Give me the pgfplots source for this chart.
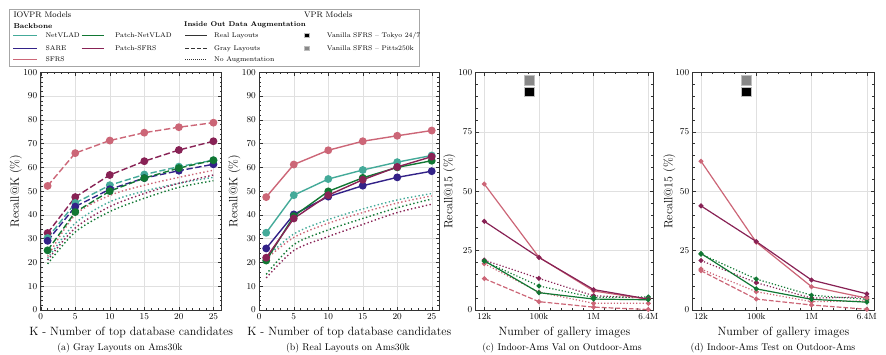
\documentclass[border=0pt]{standalone}
\usepackage{pgfplots}
\pgfplotsset{compat=1.18}
\definecolor{cNet}{HTML}{44AA99}
\definecolor{cSare}{HTML}{332288}
\definecolor{cSfrs}{HTML}{CC6677}
\definecolor{cPNet}{HTML}{117733}
\definecolor{cPSfrs}{HTML}{882255}
\definecolor{cGray}{HTML}{888888}
\pgfplotsset{
  base/.style={scale only axis, height=237.7pt, ymin=0, ymax=100,
    grid=major, major grid style={draw=black!12, line width=0.4pt},
    tick align=inside, major tick length=3.5pt, minor tick length=2pt,
    axis line style={line width=0.5pt, black!80},
    every tick/.style={black!80, line width=0.4pt},
    tick label style={font=\fontsize{8.9}{10}\selectfont},
    label style={font=\fontsize{12}{14}\selectfont},
    minor x tick num=4, minor y tick num=4},
  recall/.style={base, width=181pt, xmin=0, xmax=26.2,
    xtick={0,5,...,25}, ytick={0,10,...,100},
    xlabel={K - Number of top database candidates}, ylabel={Recall@K (\%)},
    xlabel style={at={(axis description cs:0.5,-0.0926)}, anchor=center}},
  gallery/.style={base, xtick={0,1,2,3},
    xticklabels={\mbox{12k},\mbox{100k},\mbox{1M},\mbox{6.4M}},
    ytick={0,25,50,75,100},
    xlabel={Number of gallery images}, ylabel={Recall@15 (\%)},
    xlabel style={at={(axis description cs:0.5,-0.0926)}, anchor=center}},
  big/.style={line width=1.4pt, mark=*, mark size=3.2pt, mark options={solid}},
  bigdash/.style={big, dash pattern=on 6.3pt off 2.7pt},
  bigdot/.style={line width=1.4pt, dash pattern=on 1.4pt off 2.4pt, smooth},
  sm/.style={line width=1.2pt, mark=*, mark size=1.8pt, mark options={solid}},
  smdash/.style={sm, dash pattern=on 4.8pt off 2pt},
  smdot/.style={sm, dash pattern=on 1.2pt off 2pt},
  vpr/.style={only marks, mark=square*, mark size=4.7pt, mark options={draw=white!75!black, line width=0.4pt}},
  lg/.style={line width=1.7pt},
}
\tikzset{lt/.style={anchor=west, inner sep=0pt, text height=4.9pt, text depth=0pt, font=\fontsize{6.8}{8}\selectfont}}
\begin{document}
\begin{tikzpicture}
\useasboundingbox (0pt,0pt) rectangle (886pt,-355pt);

% ---------- legend (canvas axis in pixel units) ----------
\begin{axis}[hide axis, scale only axis, width=886pt, height=355pt,
  xmin=0, xmax=886, ymin=-355, ymax=0, at={(0pt,-355pt)}, anchor=south west, clip=false]
\draw[black!35, line width=0.5pt] (axis cs:9,-9) rectangle (axis cs:419.3,-66.5);
\node[anchor=west, inner sep=0pt, font=\fontsize{8.1}{9}\selectfont] at (axis cs:13.3,-14.7) {IOVPR Models};
\node[anchor=west, inner sep=0pt, font=\fontsize{8.1}{9}\selectfont] at (axis cs:304,-15) {VPR Models};
\node[anchor=west, inner sep=0pt, font=\bfseries\fontsize{7.1}{8}\selectfont] at (axis cs:13.3,-25.7) {Backbone};
\node[anchor=west, inner sep=0pt, font=\bfseries\fontsize{6.9}{8}\selectfont] at (axis cs:184,-25.2) {Inside Out Data Augmentation};
% backbone samples
\addplot[cNet, lg] coordinates {(13.3,-35.5)(36.7,-35.5)};
\addplot[cPNet, lg] coordinates {(81.7,-35.5)(104,-35.5)};
\addplot[cSare, lg] coordinates {(13.3,-48.5)(36.7,-48.5)};
\addplot[cPSfrs, lg] coordinates {(81.7,-48.5)(104,-48.5)};
\addplot[cSfrs, lg] coordinates {(13.3,-59.5)(36.7,-59.5)};
\node[lt] at (axis cs:45.3,-35.5) {NetVLAD};
\node[lt] at (axis cs:115,-35.5) {Patch-NetVLAD};
\node[lt] at (axis cs:45.3,-48.5) {SARE};
\node[lt] at (axis cs:115,-48.5) {Patch-SFRS};
\node[lt] at (axis cs:45.3,-59.5) {SFRS};
% augmentation samples
\addplot[black!80, line width=1.2pt] coordinates {(185,-35.5)(206.7,-35.5)};
\addplot[black!80, line width=1.2pt, dash pattern=on 3.6pt off 2.4pt] coordinates {(185,-48.5)(206.7,-48.5)};
\addplot[black!80, line width=0.8pt, dash pattern=on 0.8pt off 1.2pt] coordinates {(185,-59.5)(206.7,-59.5)};
\node[lt] at (axis cs:214,-35.5) {Real Layouts};
\node[lt] at (axis cs:214,-48.5) {Gray Layouts};
\node[lt] at (axis cs:214,-59.5) {No Augmentation};
% VPR samples
\addplot[black, only marks, mark=square*, mark size=2.1pt, mark options={draw=white!75!black, line width=0.3pt}] coordinates {(306.7,-35.5)};
\addplot[cGray, only marks, mark=square*, mark size=2.1pt, mark options={draw=white!75!black, line width=0.3pt}] coordinates {(306.7,-48.5)};
\node[lt] at (axis cs:326.7,-35.5) {Vanilla SFRS -- Tokyo 24/7};
\node[lt] at (axis cs:326.7,-48.5) {Vanilla SFRS -- Pitts250k};
\end{axis}

% ---------- (a) Gray layouts ----------
\begin{axis}[recall, at={(40.7pt,-310pt)}, anchor=south west,
  ylabel style={at={(axis description cs:-0.1365,0.5)}, anchor=center}]
\addplot[cSfrs, bigdot] coordinates {(1,22.5)(5,40)(10,48.2)(15,52.5)(20,55.8)(25,58.8)};
\addplot[cNet, bigdot] coordinates {(1,21.7)(5,36.5)(10,45.5)(15,50)(20,53.3)(25,55.8)};
\addplot[cPSfrs, bigdot] coordinates {(1,21)(5,34.5)(10,43.5)(15,49)(20,53.3)(25,56.8)};
\addplot[cPNet, bigdot] coordinates {(1,19.4)(5,32.8)(10,41.4)(15,47)(20,51.6)(25,54.4)};
\addplot[cSfrs, bigdash] coordinates {(1,52.2)(5,66)(10,71.3)(15,74.6)(20,76.9)(25,78.8)};
\addplot[cPSfrs, bigdash] coordinates {(1,32.4)(5,47.5)(10,56.8)(15,62.6)(20,67.3)(25,71)};
\addplot[cNet, bigdash] coordinates {(1,30.3)(5,45)(10,52.5)(15,57)(20,60.3)(25,63)};
\addplot[cSare, bigdash] coordinates {(1,29.1)(5,43.5)(10,50.8)(15,55.5)(20,58.6)(25,61.3)};
\addplot[cPNet, bigdash] coordinates {(1,25.1)(5,41.2)(10,50)(15,55.5)(20,59.7)(25,63)};
\end{axis}
\node[font=\fontsize{9.8}{11}\selectfont] at (120pt,-348pt) {(a) Gray Layouts on Ams30k};

% ---------- (b) Real layouts ----------
\begin{axis}[recall, at={(259.3pt,-310pt)}, anchor=south west, width=180pt, xmax=26.1,
  ylabel style={at={(axis description cs:-0.139,0.5)}, anchor=center}]
\addplot[cNet, bigdot] coordinates {(1,22)(5,32)(10,38)(15,42.5)(20,46.3)(25,49)};
\addplot[cSfrs, bigdot] coordinates {(1,21.5)(5,30.5)(10,36.5)(15,41)(20,45)(25,48)};
\addplot[cPNet, bigdot] coordinates {(1,15)(5,27.5)(10,33.7)(15,38.5)(20,43)(25,46.7)};
\addplot[cPSfrs, bigdot] coordinates {(1,13.5)(5,25)(10,30.9)(15,36)(20,41)(25,44.5)};
\addplot[cSfrs, big] coordinates {(1,47.5)(5,61.2)(10,67.2)(15,71)(20,73.3)(25,75.5)};
\addplot[cNet, big] coordinates {(1,32.5)(5,48.3)(10,55.1)(15,58.9)(20,62.2)(25,65)};
\addplot[cSare, big] coordinates {(1,25.9)(5,40.2)(10,47.7)(15,52.3)(20,55.8)(25,58.4)};
\addplot[cPNet, big] coordinates {(1,20.8)(5,39.5)(10,49.9)(15,55.6)(20,60)(25,62.8)};
\addplot[cPSfrs, big] coordinates {(1,22)(5,38.5)(10,48.3)(15,54.8)(20,60.2)(25,64.5)};
\end{axis}
\node[font=\fontsize{9.8}{11}\selectfont] at (348pt,-348pt) {(b) Real Layouts on Ams30k};

% ---------- (c) Indoor-Ams Val ----------
\begin{axis}[gallery, at={(475.7pt,-310pt)}, anchor=south west, width=177.3pt, xmin=-0.157, xmax=3.086,
  ylabel style={at={(axis description cs:-0.149,0.5)}, anchor=center}]
\addplot[cSfrs, smdash] coordinates {(0,13.2)(1,3.5)(2,1.2)(3,0.2)};
\addplot[cSfrs, smdot] coordinates {(0,19.5)(1,7.5)(2,2.8)(3,2.8)};
\addplot[cPSfrs, smdot] coordinates {(0,21)(1,13.3)(2,6)(3,5)};
\addplot[cPNet, smdot] coordinates {(0,20.5)(1,10.1)(2,5.3)(3,5.5)};
\addplot[cSfrs, sm] coordinates {(0,53)(1,22.2)(2,8)(3,4.5)};
\addplot[cPSfrs, sm] coordinates {(0,37.3)(1,22.1)(2,8.6)(3,4.6)};
\addplot[cPNet, sm] coordinates {(0,20.7)(1,7.3)(2,4.6)(3,4.3)};
\addplot[cGray, vpr] coordinates {(0.82,96.6)};
\addplot[black, vpr] coordinates {(0.82,91.9)};
\end{axis}
\node[font=\fontsize{9.8}{11}\selectfont] at (562pt,-348pt) {(c) Indoor-Ams Val on Outdoor-Ams};

% ---------- (d) Indoor-Ams Test ----------
\begin{axis}[gallery, at={(692.7pt,-310pt)}, anchor=south west, width=181.3pt, xmin=-0.15, xmax=3.13,
  ylabel style={at={(axis description cs:-0.129,0.5)}, anchor=center}]
\addplot[cSfrs, smdash] coordinates {(0,16.5)(1,4.6)(2,2.1)(3,0.3)};
\addplot[cSfrs, smdot] coordinates {(0,17.2)(1,7.7)(2,3.5)(3,3.8)};
\addplot[cPSfrs, smdot] coordinates {(0,20.8)(1,11.5)(2,5)(3,5.5)};
\addplot[cPNet, smdot] coordinates {(0,23.5)(1,13)(2,6.2)(3,4.5)};
\addplot[cSfrs, sm] coordinates {(0,62.6)(1,28.5)(2,9.8)(3,5)};
\addplot[cPSfrs, sm] coordinates {(0,43.8)(1,28.8)(2,12.6)(3,6.8)};
\addplot[cPNet, sm] coordinates {(0,23.8)(1,8.9)(2,4.5)(3,3.3)};
\addplot[cGray, vpr] coordinates {(0.82,96.6)};
\addplot[black, vpr] coordinates {(0.82,91.9)};
\end{axis}
\node[font=\fontsize{9.8}{11}\selectfont] at (773pt,-348pt) {(d) Indoor-Ams Test on Outdoor-Ams};
\end{tikzpicture}
\end{document}
